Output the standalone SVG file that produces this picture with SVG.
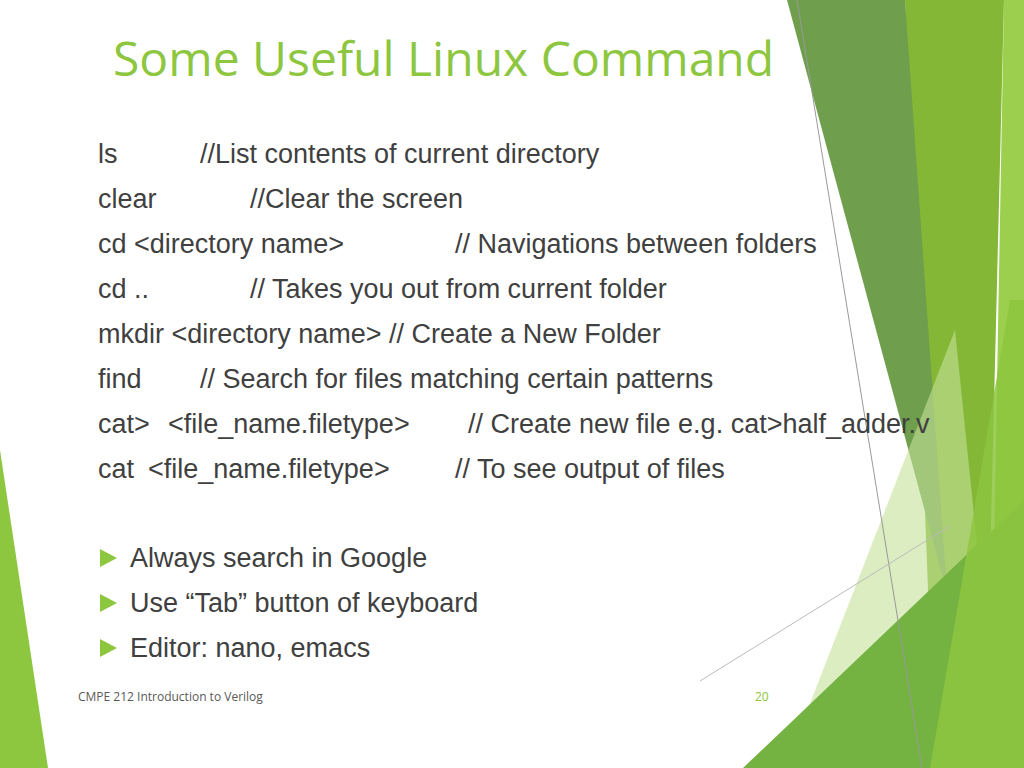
<svg xmlns="http://www.w3.org/2000/svg" width="1024" height="768" viewBox="0 0 1024 768">
<style>
.b{font-family:"Liberation Sans",Arial,sans-serif;font-size:27px;fill:#404040}
.f{font-family:"Open Sans","DejaVu Sans",sans-serif;font-size:12px}
</style>
<rect width="1024" height="768" fill="#fff"/>
<g id="deco">
<polygon points="1004,0 1024,0 1024,768 990,768" fill="#9ccf4e"/>
<polygon points="905,0 1004,0 985,768 935,768" fill="#84b735"/>
<polygon points="787,0 905,0 947,593" fill="#6f9f4c"/>
<polygon points="785,768 955,330 1000,768" fill="#c5e19a" opacity="0.6"/>
<polygon points="743,768 1024,500 1024,768" fill="#74b241"/>
<polygon points="930,768 1010,300 1024,300 1024,768" fill="#8dc63f" opacity="0.85"/>
<line x1="797" y1="0" x2="922" y2="768" stroke="#999" stroke-width="1"/>
<line x1="700" y1="681" x2="950" y2="526" stroke="#bbb" stroke-width="1"/>
<polygon points="0,450 0,768 48,768" fill="#8dc63f"/>
</g>
<text x="113" y="76" font-family="'Open Sans','DejaVu Sans',sans-serif" font-size="48" fill="#8dc63f">Some Useful Linux Command</text>
<g class="b">
<text x="98" y="163">ls</text><text x="200" y="163">//List contents of current directory</text>
<text x="98" y="208">clear</text><text x="250" y="208">//Clear the screen</text>
<text x="98" y="253">cd &lt;directory name&gt;</text><text x="455" y="253">// Navigations between folders</text>
<text x="98" y="298">cd ..</text><text x="250" y="298">// Takes you out from current folder</text>
<text x="98" y="343">mkdir &lt;directory name&gt; // Create a New Folder</text>
<text x="98" y="388">find</text><text x="200" y="388">// Search for files matching certain patterns</text>
<text x="98" y="433">cat&gt;</text><text x="168" y="433">&lt;file_name.filetype&gt;</text><text x="468" y="433">// Create new file e.g. cat&gt;half_adder.v</text>
<text x="98" y="478">cat</text><text x="148" y="478">&lt;file_name.filetype&gt;</text><text x="455" y="478">// To see output of files</text>
<text x="130" y="567">Always search in Google</text>
<text x="130" y="612">Use “Tab” button of keyboard</text>
<text x="130" y="657">Editor: nano, emacs</text>
</g>
<g fill="#8dc63f">
<polygon points="100,549 117,558 100,567"/>
<polygon points="100,594 117,603 100,612"/>
<polygon points="100,639 117,648 100,657"/>
</g>
<text class="f" x="78" y="701" fill="#595959">CMPE 212 Introduction to Verilog</text>
<text class="f" x="755" y="701" fill="#8dc63f">20</text>
</svg>
